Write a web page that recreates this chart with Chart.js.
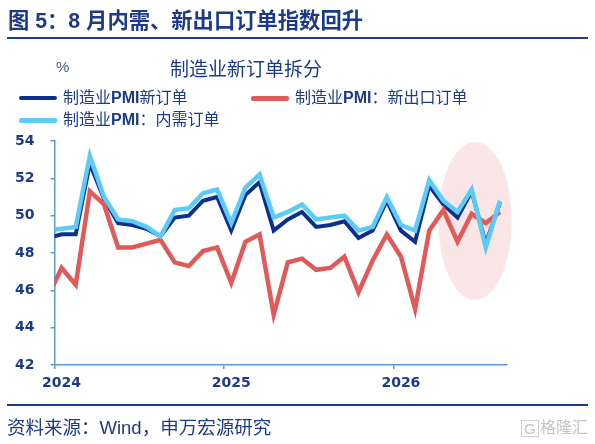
<!DOCTYPE html>
<html>
<head>
<meta charset="utf-8">
<script src="https://cdn.jsdelivr.net/npm/chart.js@4.4.1/dist/chart.umd.min.js"></script>
<style>
  html, body { margin: 0; padding: 0; background: #fff; }
  #wrap { position: relative; width: 595px; height: 444px; overflow: hidden;
          font-family: "Liberation Sans", "Noto Sans CJK SC", sans-serif; color: #1c3a88; }
  #wrap canvas { position: absolute; left: 0; top: 0; }
  .txt { position: absolute; white-space: nowrap; line-height: 1; }
  .txt b { font-weight: bold; }
  .rule { position: absolute; left: 7px; width: 581px; height: 2px; background: #1c3a88; }
  .leg { position: absolute; height: 4px; width: 38px; border-radius: 2px; }
</style>
</head>
<body>
<div id="wrap">
  <canvas id="myChart" width="595" height="444"></canvas>

  <div class="txt" style="left:8px; top:11px; font-size:21.3px; font-weight:bold;">图 5：8 月内需、新出口订单指数回升</div>
  <div class="rule" style="top:37px;"></div>

  <div class="txt" style="left:56px; top:59px; font-size:15px; color:#4a5a8c;">%</div>
  <div class="txt" style="left:170px; top:60px; font-size:19px;">制造业新订单拆分</div>

  <div class="leg" style="left:19px; top:96px; background:#0a2f8c;"></div>
  <div class="txt" style="left:63px; top:90px; font-size:16px;">制造业<b>PMI</b>新订单</div>
  <div class="leg" style="left:251px; top:96px; height:5px; background:#e05a5a;"></div>
  <div class="txt" style="left:295px; top:90px; font-size:16px;">制造业<b>PMI</b>：新出口订单</div>
  <div class="leg" style="left:19px; top:118px; height:5px; background:#5ccbf5;"></div>
  <div class="txt" style="left:63px; top:112px; font-size:16px;">制造业<b>PMI</b>：内需订单</div>

  <div class="rule" style="top:404px;"></div>
  <div class="txt" style="left:7px; top:419px; font-size:18.5px;">资料来源：Wind，申万宏源研究</div>
  <div class="txt" style="left:521px; top:420px; font-size:15px; color:#c4c4c4; border:1px solid #cfcfcf; padding:0 2px;">G</div>
  <div class="txt" style="left:540px; top:420px; font-size:16px; color:#c4c4c4;">格隆汇</div>
</div>

<script>
// months, first one (2023-12) only shows as the clipped start of the lines
const months = [
  '2023-12',
  '2024-01','2024-02','2024-03','2024-04','2024-05','2024-06','2024-07','2024-08','2024-09','2024-10','2024-11','2024-12',
  '2025-01','2025-02','2025-03','2025-04','2025-05','2025-06','2025-07','2025-08','2025-09','2025-10','2025-11','2025-12',
  '2026-01','2026-02','2026-03','2026-04','2026-05','2026-06','2026-07','2026-08'
];

// 制造业PMI新订单
const newOrders = [
  48.8,
  49.0, 49.0, 52.8, 50.9, 49.6, 49.5, 49.3, 48.9, 49.9, 50.0, 50.8, 51.0,
  49.2, 51.1, 51.8, 49.2, 49.8, 50.2, 49.4, 49.5, 49.7, 48.8, 49.2, 50.8,
  49.2, 48.6, 51.6, 50.6, 49.9, 51.3, 48.5, 50.7
];

// 制造业PMI：新出口订单
const exportOrders = [
  45.6,
  47.2, 46.3, 51.3, 50.6, 48.3, 48.3, 48.5, 48.7, 47.5, 47.3, 48.1, 48.3,
  46.4, 48.6, 49.0, 44.7, 47.5, 47.7, 47.1, 47.2, 47.8, 45.9, 47.6, 49.0,
  47.8, 45.0, 49.2, 50.3, 48.6, 50.1, 49.6, 50.2
];

// 制造业PMI：内需订单
const domesticOrders = [
  49.2,
  49.3, 49.4, 53.2, 51.0, 49.8, 49.7, 49.4, 48.9, 50.3, 50.4, 51.2, 51.4,
  49.6, 51.5, 52.2, 49.9, 50.2, 50.6, 49.8, 49.9, 50.0, 49.2, 49.4, 51.0,
  49.5, 49.2, 51.9, 50.8, 50.2, 51.4, 48.3, 50.8
];

const yTicks = [42, 44, 46, 48, 50, 52, 54];

const axisColor = '#5b9bd5';
const textColor = '#1c3a88';

// x value of a month: 2024-01 sits at 0
const toPoints = (vals) => vals.map((v, i) => ({ x: i - 1, y: v }));

// year boundaries (tick marks between Dec and Jan), label sits on January
const yearTicks = [];
months.forEach((m, i) => {
  if (m.endsWith('-01')) yearTicks.push({ value: i - 1.5, label: m.slice(0, 4) });
});

// the pink highlight over the last months
const highlight = { x: 29.24, y: 49.72, rx: 2.6, ry: 4.23, color: 'rgba(244, 200, 200, 0.45)' };

const highlightPlugin = {
  id: 'highlight',
  beforeDatasetsDraw(chart) {
    const { ctx, scales: { x, y } } = chart;
    const cx = x.getPixelForValue(highlight.x);
    const cy = y.getPixelForValue(highlight.y);
    const rx = x.getPixelForValue(highlight.x + highlight.rx) - cx;
    const ry = cy - y.getPixelForValue(highlight.y + highlight.ry);
    ctx.save();
    ctx.fillStyle = highlight.color;
    ctx.beginPath();
    ctx.ellipse(cx, cy, rx, ry, 0, 0, Math.PI * 2);
    ctx.fill();
    ctx.restore();
  }
};

const clip = { left: 0, top: false, right: false, bottom: false };

const chart = new Chart(document.getElementById('myChart'), {
  type: 'line',
  data: {
    datasets: [
      { label: '制造业PMI：内需订单', data: toPoints(domesticOrders), borderColor: '#5ccbf5',
        borderWidth: 4.5, order: 0, clip: clip },
      { label: '制造业PMI：新出口订单', data: toPoints(exportOrders), borderColor: '#e05a5a',
        borderWidth: 4.5, order: 1, clip: clip },
      { label: '制造业PMI新订单', data: toPoints(newOrders), borderColor: '#0a2f8c',
        borderWidth: 4, order: 2, clip: clip }
    ]
  },
  options: {
    responsive: false,
    animation: false,
    elements: { point: { radius: 0 }, line: { tension: 0 } },
    layout: { padding: { left: 0, top: 141, right: 88, bottom: 49 } },
    plugins: {
      legend: { display: false },
      tooltip: { enabled: false }
    },
    scales: {
      x: {
        type: 'linear',
        min: -0.5,
        max: 31.5,
        afterBuildTicks: (scale) => { scale.ticks = yearTicks.map(t => ({ value: t.value })); },
        afterFit: (scale) => { scale.height = 30; },
        ticks: {
          autoSkip: false,
          maxRotation: 0,
          labelOffset: 7,
          padding: 6,
          color: textColor,
          font: { family: 'DejaVu Sans', size: 14, weight: 'bold' },
          callback: (value) => {
            const t = yearTicks.find(t => t.value === value);
            return t ? t.label : '';
          }
        },
        grid: { drawOnChartArea: false, tickLength: 4, color: axisColor, lineWidth: 1.5 },
        border: { color: axisColor, width: 1.5 }
      },
      y: {
        min: 42,
        max: 54,
        afterBuildTicks: (scale) => { scale.ticks = yTicks.map(v => ({ value: v })); },
        afterFit: (scale) => { scale.width = 54.5; },
        ticks: {
          padding: 16,
          color: textColor,
          font: { family: 'DejaVu Sans', size: 14, weight: 'bold' }
        },
        grid: { drawOnChartArea: false, tickLength: 4, color: axisColor, lineWidth: 1.5 },
        border: { color: axisColor, width: 1.5 }
      }
    }
  },
  plugins: [highlightPlugin]
});
</script>
</body>
</html>
